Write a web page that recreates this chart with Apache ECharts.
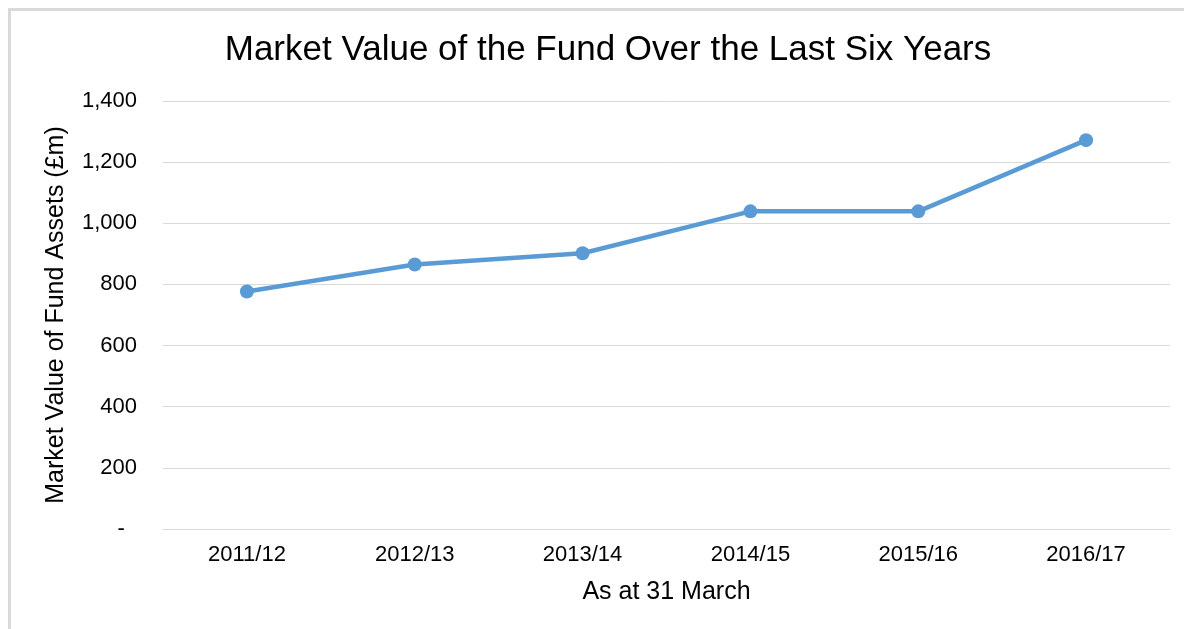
<!DOCTYPE html>
<html>
<head>
<meta charset="utf-8">
<script src="https://cdn.jsdelivr.net/npm/echarts@6/dist/echarts.min.js"></script>
<style>
  html, body { margin: 0; padding: 0; background: #fff; }
  #chart { width: 1184px; height: 629px; }
</style>
</head>
<body>
<div id="chart"></div>
<script>
var years = ['2011/12', '2012/13', '2013/14', '2014/15', '2015/16', '2016/17'];
var marketValue = [777, 865, 902, 1039, 1039, 1272];
var yTicks = [0, 200, 400, 600, 800, 1000, 1200, 1400];

var chart = echarts.init(document.getElementById('chart'));

var option = {
  animation: false,
  backgroundColor: '#fff',
  textStyle: { fontFamily: 'Liberation Sans, Arial, sans-serif' },
  title: {
    text: 'Market Value of the Fund Over the Last Six Years',
    left: 603,
    top: 28,
    textAlign: 'center',
    textStyle: { fontSize: 35, fontWeight: 'normal', color: '#000' }
  },
  graphic: [
    // outer frame (only the top and left edges are visible in the picture)
    { type: 'rect', shape: { x: 8, y: 8, width: 1176, height: 3 }, style: { fill: '#d9d9d9' } },
    { type: 'rect', shape: { x: 8, y: 8, width: 3, height: 621 }, style: { fill: '#d9d9d9' } }
  ],
  grid: { left: 163, right: 14, top: 101, bottom: 100 },
  xAxis: {
    type: 'category',
    data: years,
    boundaryGap: true,
    name: 'As at 31 March',
    nameLocation: 'middle',
    nameGap: 51,
    nameTextStyle: { fontSize: 25, color: '#000' },
    axisLine: { show: true, lineStyle: { color: '#d9d9d9', width: 1 } },
    axisTick: { show: false },
    axisLabel: { fontSize: 22, color: '#000', margin: 15 }
  },
  yAxis: {
    type: 'value',
    min: yTicks[0],
    max: yTicks[yTicks.length - 1],
    interval: 200,
    name: 'Market Value of Fund Assets (£m)',
    nameLocation: 'middle',
    nameGap: 94,
    nameTextStyle: { fontSize: 25, color: '#000' },
    axisLine: { show: false },
    axisTick: { show: false },
    splitLine: { lineStyle: { color: '#d9d9d9', width: 1 } },
    axisLabel: {
      fontSize: 22,
      color: '#000',
      margin: 26,
      formatter: function (v) {
        if (v === 0) return '-  ';
        return v.toLocaleString('en-GB');
      }
    }
  },
  series: [{
    name: 'Market Value',
    type: 'line',
    data: marketValue,
    symbol: 'circle',
    symbolSize: 14,
    lineStyle: { color: '#5b9bd5', width: 4.5 },
    itemStyle: { color: '#5b9bd5' }
  }]
};

chart.setOption(option);
</script>
</body>
</html>
